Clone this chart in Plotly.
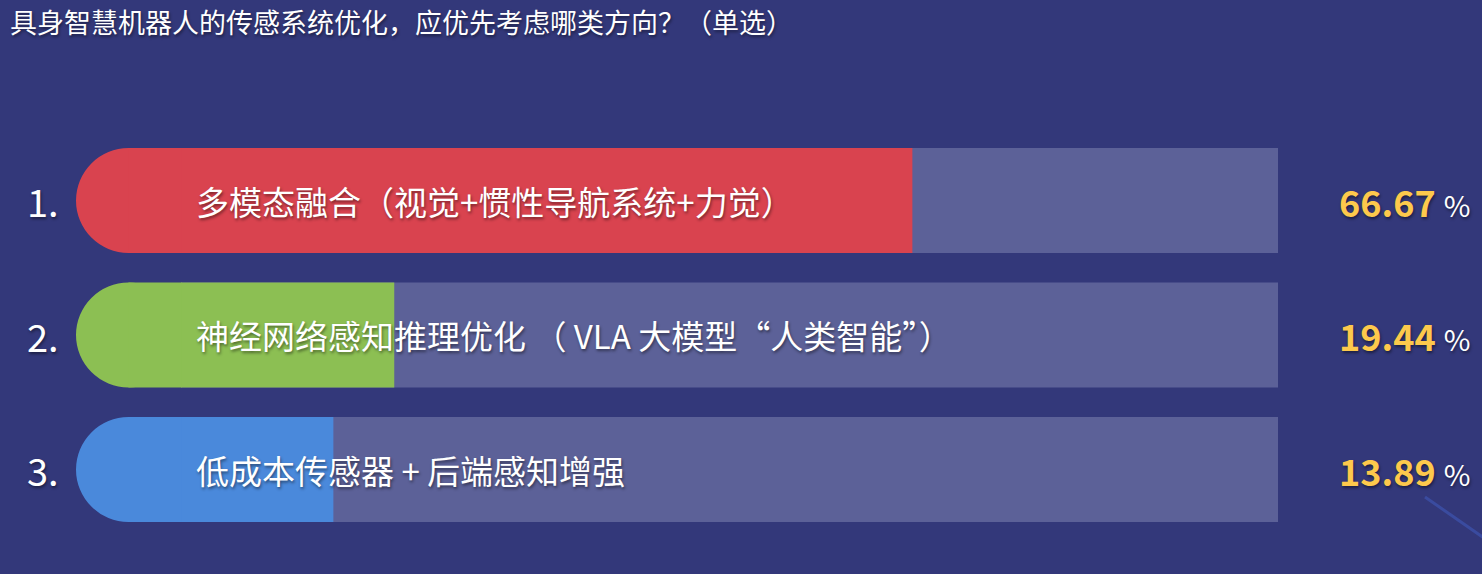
import plotly.graph_objects as go

# survey question + options
title = "具身智慧机器人的传感系统优化，应优先考虑哪类方向？（单选）"
options = [
    "多模态融合（视觉+惯性导航系统+力觉）",
    "神经网络感知推理优化 （ VLA 大模型“人类智能”）",
    "低成本传感器 + 后端感知增强",
]
ranks = ["1.", "2.", "3."]
shares = [66.67, 19.44, 13.89]
bar_colors = ["#d9434f", "#8cbf53", "#4a89db"]

BG = "#33387a"
TRACK = "#5c6198"
YELLOW = "#fdc94c"
FONT = "Noto Sans CJK SC, sans-serif"
SHADOW = "1px 2px 3px rgba(0,0,0,0.45)"

# plot area geometry (pixels)
W, H = 1482, 574
left_px, zero_px, right_px = 76, 181, 1278
top_px, bot_px = 148, 522
px_per_unit = (right_px - zero_px) / 100.0
cap = (zero_px - left_px) / px_per_unit  # width of the round cap in data units
bar_w = 0.7807


def paper_x(px):
    return (px - left_px) / (right_px - left_px)


def paper_y(py):
    return (bot_px - py) / (bot_px - top_px)


y = list(range(len(options)))

fig = go.Figure()
# background track
fig.add_trace(go.Bar(
    x=[100] * len(options), y=y, orientation="h", width=bar_w,
    marker=dict(color=TRACK, line=dict(width=0)), hoverinfo="skip", showlegend=False,
))
# value bars
fig.add_trace(go.Bar(
    x=shares, y=y, orientation="h", width=bar_w,
    marker=dict(color=bar_colors, line=dict(width=0)), hoverinfo="skip", showlegend=False,
))

shapes = []
annotations = []
for i in y:
    # rounded left cap: circle + filler rect
    shapes.append(dict(type="circle", xref="x", yref="y", x0=-cap, x1=0,
                       y0=i - bar_w / 2, y1=i + bar_w / 2,
                       fillcolor=bar_colors[i], line=dict(width=0), layer="above"))
    shapes.append(dict(type="rect", xref="x", yref="y", x0=-cap / 2, x1=0.05,
                       y0=i - bar_w / 2, y1=i + bar_w / 2,
                       fillcolor=bar_colors[i], line=dict(width=0), layer="above"))
    annotations.append(dict(
        x=paper_x(61), y=i, xref="paper", yref="y",
        text=ranks[i], showarrow=False, xanchor="right", yanchor="middle",
        font=dict(family=FONT, size=38, color="white", shadow=SHADOW),
    ))
    annotations.append(dict(
        x=paper_x(194), y=i, xref="paper", yref="y",
        text=options[i], showarrow=False, xanchor="left", yanchor="middle",
        font=dict(family=FONT, size=33, color="white", shadow=SHADOW),
    ))
    annotations.append(dict(
        x=paper_x(1472), y=i, xref="paper", yref="y",
        text="<b><span style='color:%s'>%.2f</span></b> <span style='font-size:29px'>%%</span>"
             % (YELLOW, shares[i]),
        showarrow=False, xanchor="right", yanchor="middle",
        font=dict(family=FONT, size=36, color="white", shadow=SHADOW),
    ))

# faint diagonal streak bottom right
shapes.append(dict(type="line", xref="paper", yref="paper", x0=paper_x(1425), y0=paper_y(497),
                   x1=paper_x(1484), y1=paper_y(538),
                   line=dict(color="rgba(70,105,215,0.4)", width=3), layer="below"))

fig.update_layout(
    width=W, height=H,
    margin=dict(l=left_px, r=W - right_px, t=top_px, b=H - bot_px, pad=0),
    paper_bgcolor=BG, plot_bgcolor=BG,
    barmode="overlay",
    xaxis=dict(range=[-cap, 100], visible=False, fixedrange=True),
    yaxis=dict(range=[len(options) - 1 + bar_w / 2, -bar_w / 2], visible=False, fixedrange=True),
    title=dict(text=title, xref="container", yref="container", x=10 / W, y=1 - 24 / H,
               xanchor="left", yanchor="middle",
               font=dict(family=FONT, size=27, color="white", shadow=SHADOW)),
    shapes=shapes,
    annotations=annotations,
)

fig.write_html("out.html", config={"displayModeBar": False},
               post_script="document.body.style.margin='0';")
